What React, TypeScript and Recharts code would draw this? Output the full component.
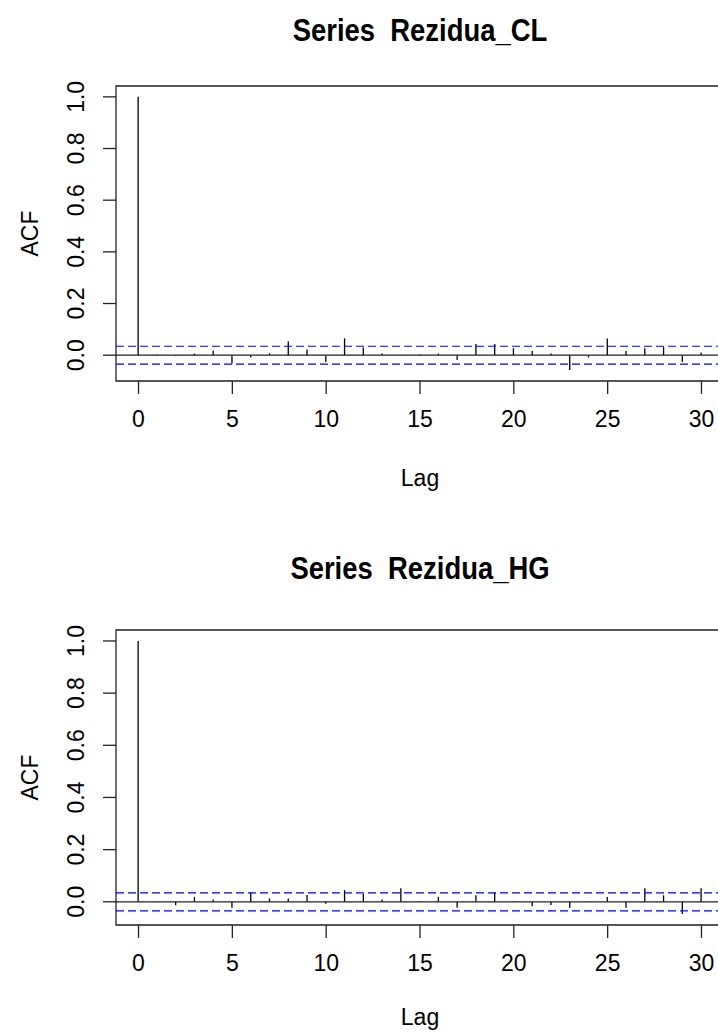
import React from "react";
import { ComposedChart, Bar, XAxis, YAxis, ReferenceLine, ReferenceArea, Label } from "recharts";

// ACF plots of two residual series (R-style acf() output)

const FONT = "'Liberation Sans Narrow', 'Arial Narrow', 'Liberation Sans', Arial, sans-serif";

const lags = [0, 1, 2, 3, 4, 5, 6, 7, 8, 9, 10, 11, 12, 13, 14, 15, 16, 17, 18, 19, 20, 21, 22, 23, 24, 25, 26, 27, 28, 29, 30];

const acfCL = [
  1.0, 0.002, -0.003, 0.006, 0.017, -0.032, -0.009, 0.007, 0.054, 0.022, -0.026,
  0.065, 0.03, 0.006, 0.001, 0.002, 0.006, -0.019, 0.043, 0.043, 0.027,
  0.016, 0.006, -0.057, -0.009, 0.065, 0.016, 0.027, 0.032, -0.026, 0.01,
];

const acfHG = [
  1.0, 0.001, -0.013, 0.019, 0.009, -0.023, 0.036, 0.013, 0.013, 0.026, -0.008,
  0.045, 0.03, 0.009, 0.052, 0.002, 0.019, -0.023, 0.025, 0.036, 0.002,
  -0.017, -0.012, -0.023, 0.001, 0.018, -0.023, 0.052, 0.025, -0.047, 0.052,
];

const ciCL = 0.0345;
const ciHG = 0.0345;

const xTicks = [0, 5, 10, 15, 20, 25, 30];
const yTicks = [0, 0.2, 0.4, 0.6, 0.8, 1.0];
const xDomain: [number, number] = [-1.2, 31.2];
const yDomainCL: [number, number] = [-0.1, 1.042];
const yDomainHG: [number, number] = [-0.089, 1.042];

const Spike = (props: any) => {
  const { x, y, width, height } = props;
  const cx = x + width / 2;
  return <line x1={cx} x2={cx} y1={y} y2={y + height} stroke="#000" strokeWidth={1.3} />;
};

const XTick = ({ x, y, payload }: any) => (
  <text x={x} y={y + 33} textAnchor="middle" fontSize={23} fontFamily={FONT} fill="#000">
    {payload.value}
  </text>
);

const YTick = ({ x, y, payload }: any) => {
  const bx = x - 19;
  return (
    <text
      x={bx}
      y={y}
      transform={`rotate(-90 ${bx} ${y})`}
      textAnchor="middle"
      fontSize={23}
      fontFamily={FONT}
      fill="#000"
    >
      {Number(payload.value).toFixed(1)}
    </text>
  );
};

function AcfPanel({
  title,
  values,
  ci,
  yDomain,
  top,
  titleTop,
  lagOffset,
}: {
  title: string;
  values: number[];
  ci: number;
  yDomain: [number, number];
  top: number;
  titleTop: number;
  lagOffset: number;
}) {
  const data = lags.map((lag, i) => ({ lag, acf: values[i] }));
  return (
    <div style={{ position: "absolute", left: 0, top, width: 820, height: 500 }}>
      <div
        style={{
          position: "absolute",
          left: 116,
          width: 608,
          top: titleTop,
          textAlign: "center",
          fontFamily: FONT,
          fontWeight: "bold",
          fontSize: 31,
          lineHeight: 1,
          whiteSpace: "pre",
          color: "#000",
          transform: "scaleX(0.885)",
          transformOrigin: "50% 50%",
        }}
      >
        {title}
      </div>
      <ComposedChart width={820} height={500} data={data} margin={{ top: 86, right: 96, bottom: 0, left: 0 }}>
        <XAxis
          dataKey="lag"
          type="number"
          domain={xDomain}
          ticks={xTicks}
          allowDataOverflow
          height={119}
          axisLine={false}
          tickSize={13}
          tickMargin={0}
          tickLine={{ stroke: "#222", strokeWidth: 1.3 }}
          tick={<XTick />}
          interval={0}
        >
          <Label
            content={({ viewBox }: any) => (
              <text
                x={viewBox.x + viewBox.width / 2}
                y={viewBox.y + lagOffset}
                textAnchor="middle"
                fontSize={23}
                fontFamily={FONT}
                fill="#000"
              >
                Lag
              </text>
            )}
          />
        </XAxis>
        <YAxis
          type="number"
          domain={yDomain}
          ticks={yTicks}
          allowDataOverflow
          width={116}
          axisLine={false}
          tickSize={13}
          tickMargin={0}
          tickLine={{ stroke: "#222", strokeWidth: 1.3 }}
          tick={<YTick />}
          interval={0}
        >
          <Label
            content={({ viewBox }: any) => {
              const lx = 38;
              const ly = viewBox.y + viewBox.height / 2;
              return (
                <text
                  x={lx}
                  y={ly}
                  transform={`rotate(-90 ${lx} ${ly})`}
                  textAnchor="middle"
                  fontSize={23}
                  fontFamily={FONT}
                  fill="#000"
                >
                  ACF
                </text>
              );
            }}
          />
        </YAxis>
        <ReferenceArea
          x1={xDomain[0]}
          x2={xDomain[1]}
          y1={yDomain[0]}
          y2={yDomain[1]}
          fill="#fff"
          fillOpacity={0}
          stroke="#222"
          strokeWidth={1.3}
          ifOverflow="visible"
        />
        <ReferenceLine y={ci} stroke="#0000ff" strokeWidth={1.2} strokeDasharray="8 4" />
        <ReferenceLine y={-ci} stroke="#0000ff" strokeWidth={1.2} strokeDasharray="8 4" />
        <ReferenceLine y={0} stroke="#222" strokeWidth={1.3} />
        <Bar dataKey="acf" barSize={2} shape={<Spike />} isAnimationActive={false} />
      </ComposedChart>
    </div>
  );
}

export default function App() {
  return (
    <div
      style={{
        position: "absolute",
        left: 0,
        top: 0,
        width: 718,
        height: 1033,
        overflow: "hidden",
        background: "#fff",
      }}
    >
      <AcfPanel
        title="Series  Rezidua_CL"
        values={acfCL}
        ci={ciCL}
        yDomain={yDomainCL}
        top={0}
        titleTop={15}
        lagOffset={105}
      />
      <AcfPanel
        title="Series  Rezidua_HG"
        values={acfHG}
        ci={ciHG}
        yDomain={yDomainHG}
        top={544}
        titleTop={9}
        lagOffset={100}
      />
    </div>
  );
}
